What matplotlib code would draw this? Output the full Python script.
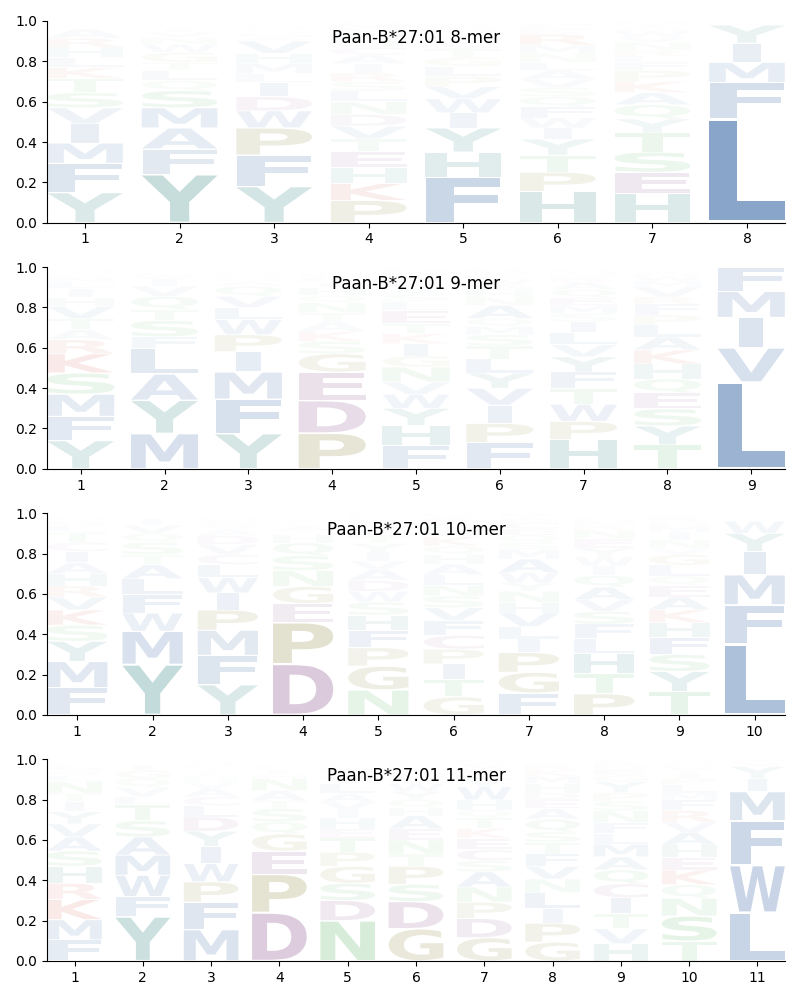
import matplotlib

matplotlib.use("Agg")
import matplotlib.pyplot as plt
from matplotlib.font_manager import FontProperties
from matplotlib.patches import PathPatch
from matplotlib.textpath import TextPath
from matplotlib.transforms import Affine2D

allele = "Paan-B*27:01"
lengths = [8, 9, 10, 11]

# Each string lists one position from the bottom of the stack to the top
letters_8 = [
    "YFMIVSTKLHRAQGPNDEC",
    "YFAMSQLTGWNVIHKRPDE",
    "YFPWDILMHVAGSNQTRKE",
    "PKHETVDNLSRIACQFYMW",
    "FHYIWVPLGTSNAQMERKD",
    "HPTYIWFQSVALNMRKEGD",
    "HESTYQAKPFLRNVWGIMD",
    "LFMIYVWATS",
]
freqs_8 = [
    [.15, .145, .10, .095, .08, .075, .07, .055, .05, .05, .045, .045, .012, .008, .006, .005, .004, .003, .002],
    [.24, .125, .105, .10, .085, .05, .05, .04, .05, .04, .035, .025, .02, .012, .008, .006, .004, .003, .002],
    [.18, .155, .135, .085, .07, .07, .045, .05, .05, .06, .02, .018, .015, .012, .01, .008, .007, .006, .004],
    [.105, .08, .075, .075, .06, .06, .055, .06, .05, .045, .04, .045, .04, .035, .035, .03, .025, .02, .015],
    [.225, .125, .12, .075, .07, .06, .05, .05, .045, .04, .03, .025, .02, .015, .012, .01, .01, .008, .01],
    [.155, .095, .085, .08, .055, .05, .055, .05, .045, .04, .045, .04, .045, .04, .055, .025, .02, .012, .008],
    [.145, .105, .10, .095, .07, .07, .06, .055, .055, .04, .03, .03, .04, .025, .03, .015, .015, .01, .01],
    [.515, .18, .10, .095, .09, .012, .004, .002, .001, .001],
]

letters_9 = [
    "YFMSKRATVHILNQWGPDE",
    "MYALFSTQVIWHNKGPRDE",
    "YFMIPWLVQANHSTGDCER",
    "PDEGSKATNQHILVFYMWR",
    "FHYWVNGIKTELSAQPDMR",
    "FPIVYLTSMQANHGWKERD",
    "HPWTFYVLISMEQARNGKD",
    "TYSEQHKALPFRVMWNIGD",
    "LVIMF",
]
freqs_9 = [
    [.14, .12, .11, .105, .095, .07, .05, .055, .06, .045, .045, .03, .025, .015, .012, .01, .006, .004, .003],
    [.175, .165, .13, .125, .06, .08, .055, .065, .05, .035, .02, .012, .008, .006, .005, .004, .002, .002, .001],
    [.175, .17, .135, .10, .085, .075, .06, .055, .05, .025, .02, .012, .01, .008, .006, .005, .004, .003, .002],
    [.175, .16, .14, .09, .06, .05, .045, .045, .05, .035, .04, .025, .02, .015, .012, .01, .008, .008, .002],
    [.115, .10, .085, .07, .06, .075, .055, .06, .05, .05, .065, .045, .035, .03, .025, .03, .02, .015, .015],
    [.13, .095, .09, .085, .075, .07, .065, .055, .04, .04, .065, .04, .035, .03, .025, .02, .015, .01, .015],
    [.145, .09, .085, .08, .08, .075, .06, .06, .055, .04, .04, .04, .04, .035, .025, .02, .015, .01, .005],
    [.12, .095, .085, .08, .07, .075, .07, .065, .06, .05, .055, .035, .05, .03, .025, .015, .012, .01, .008],
    [.43, .17, .15, .13, .12],
]

letters_10 = [
    "FMYSKVRHAICTLQNGPDE",
    "YMWFLATSQVIHNKGPRDE",
    "YFMPIWLCVDAQGHTSNEK",
    "DPEGNSQHTAVLIKFMYRW",
    "NGPFHSWDAVIYTLQEKMR",
    "GTIPCFVSNLAHQKEMRWD",
    "FGPILVHNYWAMSQECDTR",
    "PTHLFSVAQIWYENRMCDG",
    "TYSFHKAEQLGVNIMDRWP",
    "LFMIYWVTSA",
]
freqs_10 = [
    [.135, .13, .10, .08, .075, .065, .055, .06, .055, .055, .045, .05, .03, .025, .015, .01, .008, .004, .003],
    [.25, .165, .09, .09, .08, .07, .05, .06, .045, .04, .03, .01, .006, .005, .003, .002, .002, .001, .001],
    [.15, .145, .125, .10, .085, .075, .065, .05, .05, .045, .03, .025, .018, .012, .008, .006, .005, .004, .002],
    [.24, .195, .09, .08, .075, .07, .06, .04, .02, .018, .015, .012, .01, .008, .006, .005, .003, .002, .001],
    [.115, .11, .085, .08, .07, .06, .05, .05, .05, .04, .04, .04, .035, .03, .025, .02, .01, .01, .01],
    [.085, .08, .075, .07, .065, .07, .06, .055, .05, .05, .05, .045, .04, .045, .03, .03, .025, .015, .01],
    [.105, .10, .095, .065, .06, .065, .05, .055, .04, .05, .065, .045, .035, .035, .03, .03, .02, .015, .01],
    [.10, .095, .095, .07, .07, .06, .055, .06, .055, .045, .045, .04, .045, .04, .025, .02, .015, .012, .008],
    [.11, .095, .08, .08, .07, .06, .06, .055, .045, .05, .05, .03, .04, .035, .03, .02, .02, .015, .005],
    [.35, .195, .15, .115, .09, .06, .015, .012, .008, .005],
]

letters_11 = [
    "FMKRHSAVYITNLQGEPDC",
    "YFWMASTLVQGIHNKPRDE",
    "MFPWIYDLCAVHSTGNQER",
    "DPEGQSTANHILKVFMYWR",
    "NDSGPTEHIVALYQFKMCR",
    "GDSPTNEAHQYWVLIKFMR",
    "GDPNASCEKTQHWYLFVMR",
    "GPILNVFTSQAEDHMKRYW",
    "HVTICQAMLFNSPYGEDRW",
    "TSNQKEHAVRFMLPIYDGW",
    "LWFMIYVTS",
]
freqs_11 = [
    [.105, .10, .10, .08, .085, .075, .07, .065, .06, .05, .04, .06, .03, .025, .02, .012, .01, .008, .005],
    [.22, .10, .105, .10, .09, .08, .08, .04, .045, .045, .04, .025, .012, .006, .004, .003, .002, .002, .001],
    [.155, .135, .10, .09, .085, .075, .07, .055, .045, .04, .03, .025, .02, .018, .015, .012, .01, .008, .006],
    [.24, .19, .115, .085, .06, .065, .04, .05, .06, .02, .02, .015, .012, .01, .008, .004, .003, .002, .001],
    [.20, .10, .085, .085, .07, .07, .045, .055, .04, .04, .04, .05, .03, .02, .02, .015, .015, .01, .01],
    [.16, .135, .085, .09, .06, .07, .055, .065, .04, .04, .04, .04, .03, .025, .02, .015, .012, .01, .008],
    [.115, .095, .08, .075, .075, .055, .055, .055, .05, .05, .04, .05, .065, .035, .03, .025, .02, .015, .01],
    [.09, .09, .07, .075, .065, .06, .06, .055, .05, .06, .05, .045, .03, .045, .035, .03, .025, .015, .01],
    [.08, .07, .07, .075, .065, .065, .06, .06, .05, .05, .055, .045, .04, .05, .03, .025, .02, .02, .01],
    [.095, .12, .085, .065, .07, .06, .06, .06, .05, .055, .05, .035, .04, .03, .025, .025, .015, .015, .01],
    [.24, .235, .22, .145, .065, .06, .02, .01, .005],
]

letter_data = {8: (letters_8, freqs_8), 9: (letters_9, freqs_9), 10: (letters_10, freqs_10), 11: (letters_11, freqs_11)}

group_colors = {
    "AFILMVW": (0.07, 0.29, 0.58),
    "HY": (0.04, 0.43, 0.41),
    "KR": (0.78, 0.12, 0.08),
    "CDE": (0.43, 0.15, 0.44),
    "GP": (0.46, 0.44, 0.08),
    "NQST": (0.20, 0.65, 0.26),
}
letter_colors = {c: rgb for group, rgb in group_colors.items() for c in group}

font = FontProperties(family="DejaVu Sans", weight="bold")
WIDTH = 0.8
VPAD = 0.05


def draw_glyph(ax, letter, center, floor, height):
    path = TextPath((0, 0), letter, size=1, prop=font)
    box = path.get_extents()
    ref = TextPath((0, 0), "E", size=1, prop=font).get_extents()
    # Narrow letters are not stretched wider than E is
    hstretch = min(WIDTH / box.width, WIDTH / ref.width)
    shown = height * (1 - VPAD)
    transform = (
        Affine2D()
        .translate(-box.x0 - box.width / 2, -box.y0)
        .scale(hstretch, shown / box.height)
        .translate(center, floor + height * VPAD / 2)
    )
    # Letters under about 0.1 fade out faster than their height
    alpha = 0.97 * height * min(1.0, (height / 0.1) ** 0.6)
    ax.add_patch(
        PathPatch(
            path.transformed(transform),
            facecolor=letter_colors[letter],
            edgecolor="none",
            linewidth=0,
            alpha=alpha,
        )
    )


def plot_logo(ax, length):
    letters, freqs = letter_data[length]
    for pos, (column, values) in enumerate(zip(letters, freqs), start=1):
        total = sum(values)
        floor = 0.0
        for letter, value in zip(column, values):
            height = value / total
            draw_glyph(ax, letter, pos, floor, height)
            floor += height
    ax.set_xlim(0.6, length + 0.4)
    ax.set_ylim(0, 1)
    ax.set_xticks(range(1, length + 1))
    ax.set_yticks([0, 0.2, 0.4, 0.6, 0.8, 1.0])
    ax.spines["top"].set_visible(False)
    ax.spines["right"].set_visible(False)
    ax.set_title(f"{allele} {length}-mer", y=0.85, fontsize=12)


fig, axes = plt.subplots(4, 1, figsize=(8, 10))
for ax, length in zip(axes, lengths):
    plot_logo(ax, length)
fig.subplots_adjust(left=0.059, right=0.981, top=0.979, bottom=0.039, hspace=0.22)
fig.savefig("out.png", dpi=100)
